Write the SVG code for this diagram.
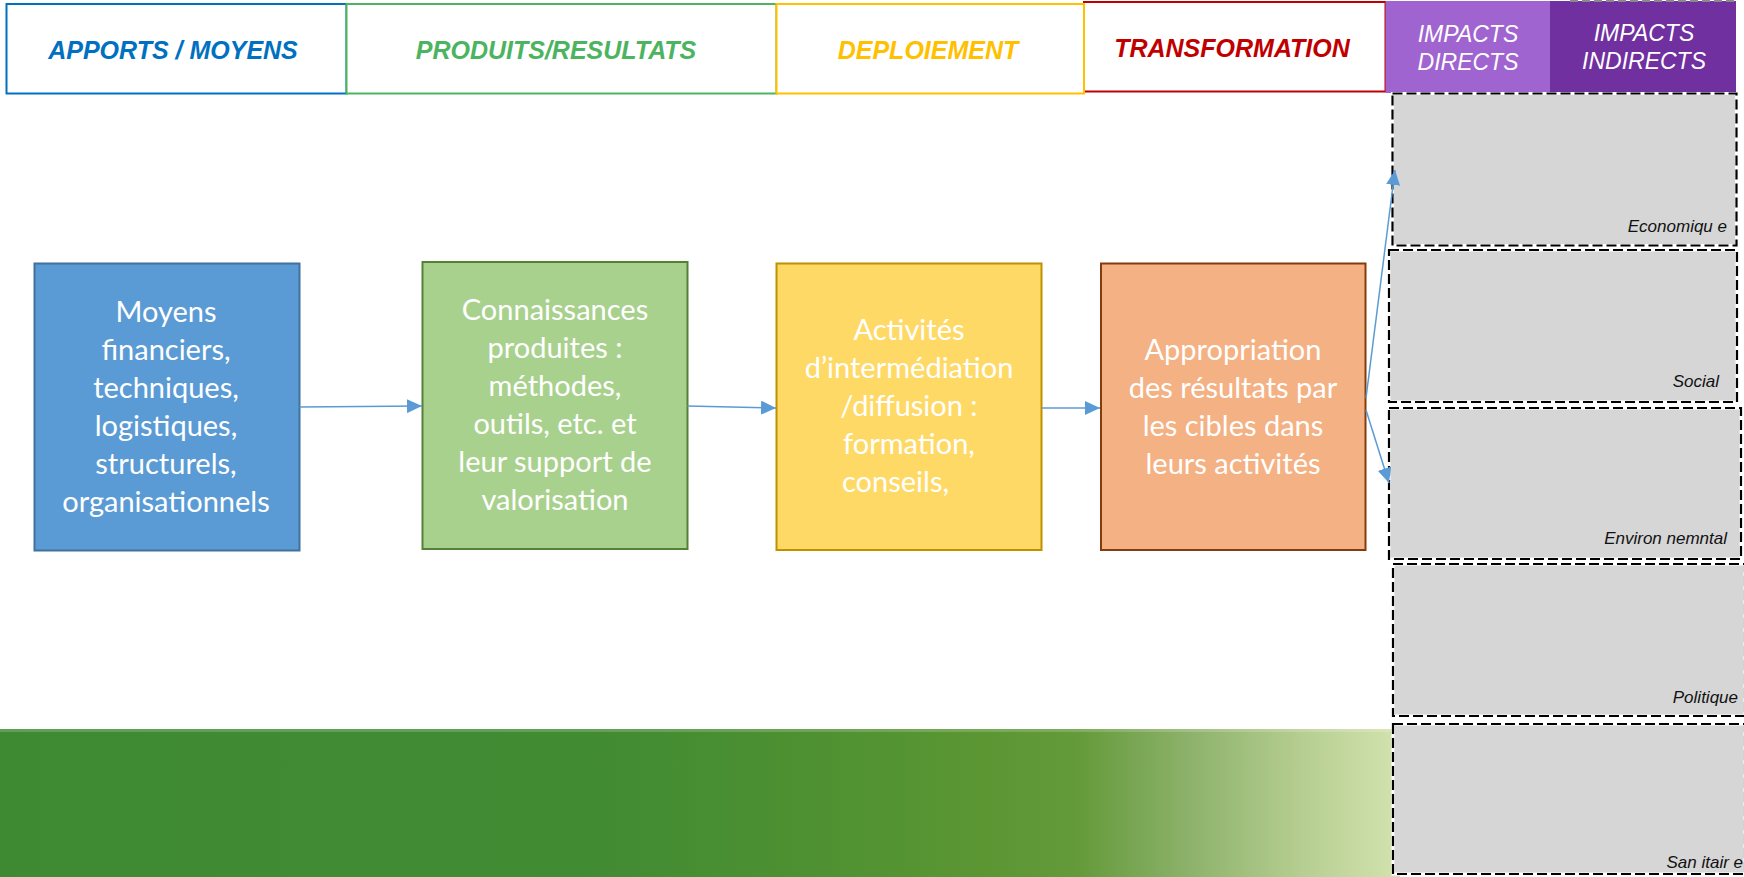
<svg xmlns="http://www.w3.org/2000/svg" width="1744" height="877" viewBox="0 0 1744 877">
<style>
.hd{font-family:"Liberation Sans",Arial,sans-serif;font-size:25px;font-weight:bold;font-style:italic;text-anchor:middle}
.hp{font-family:"Liberation Sans",Arial,sans-serif;font-size:23px;font-style:italic;fill:#FFFFFF;text-anchor:middle}
.bt{font-family:Lato,"Open Sans",sans-serif;font-size:29px;fill:#FFFFFF;text-anchor:middle}
.bts{font-family:Lato,"Open Sans",sans-serif;font-size:29px;fill:#FFFFFF;text-anchor:start}
.gl{font-family:"Liberation Sans",Arial,sans-serif;font-size:17px;font-style:italic;fill:#111111;text-anchor:end}
.gbox{fill:#D6D6D6;stroke:#FFFFFF;stroke-width:3}
.gdash{fill:none;stroke:#000000;stroke-width:2.2;stroke-dasharray:10 4}
.conn{stroke:#5B9BD5;stroke-width:1.5;fill:none;marker-end:url(#ah)}
</style>
<defs>
<marker id="ah" markerUnits="userSpaceOnUse" markerWidth="16" markerHeight="14" refX="15" refY="7" orient="auto">
<path d="M0,0 L15,7 L0,14 z" fill="#5B9BD5"/>
</marker>
<linearGradient id="band" x1="0" y1="0" x2="1" y2="0">
<stop offset="0" stop-color="#3E8A33"/>
<stop offset="0.42" stop-color="#418B33"/>
<stop offset="0.56" stop-color="#4C9032"/>
<stop offset="0.70" stop-color="#5B9633"/>
<stop offset="0.77" stop-color="#649A3A"/>
<stop offset="0.85" stop-color="#8DB26B"/>
<stop offset="0.93" stop-color="#B6CE91"/>
<stop offset="1" stop-color="#D3E3AE"/>
</linearGradient>
</defs>

<rect width="1744" height="877" fill="#FFFFFF"/>

<g id="band-bottom">
<rect x="0" y="729" width="1400" height="148" fill="url(#band)"/>
<rect x="0" y="729" width="1400" height="3" fill="#FFFFFF" opacity="0.18"/>
</g>

<g id="header-apports">
<rect x="6.5" y="4" width="340" height="89.5" fill="#FFFFFF" stroke="#0070C0" stroke-width="2"/>
<text class="hd" x="173" y="59" fill="#0070C0">APPORTS / MOYENS</text>
</g>
<g id="header-produits">
<rect x="346.5" y="4" width="430" height="89.5" fill="#FFFFFF" stroke="#4CB460" stroke-width="2"/>
<text class="hd" x="556" y="59" fill="#4CB460">PRODUITS/RESULTATS</text>
</g>
<g id="header-transformation">
<rect x="1084" y="2" width="301.5" height="89.5" fill="#FFFFFF" stroke="#C00000" stroke-width="2"/>
<text class="hd" x="1232" y="57" fill="#C00000">TRANSFORMATION</text>
</g>
<g id="header-deploiement">
<rect x="776.5" y="4" width="307.5" height="89.5" fill="#FFFFFF" stroke="#FFC000" stroke-width="2"/>
<text class="hd" x="928" y="59" fill="#FFC000">DEPLOIEMENT</text>
</g>
<g id="header-impacts-directs">
<rect x="1385.5" y="1" width="164.5" height="92" fill="#A064D0"/>
<text class="hp" x="1468" y="42">IMPACTS</text>
<text class="hp" x="1468" y="70">DIRECTS</text>
</g>
<g id="header-impacts-indirects">
<rect x="1550" y="1" width="186" height="92" fill="#7030A0"/>
<line x1="1570" y1="1" x2="1736" y2="1" stroke="#8A8A8A" stroke-width="2" stroke-dasharray="8 4"/>
<text class="hp" x="1644" y="41">IMPACTS</text>
<text class="hp" x="1644" y="69">INDIRECTS</text>
</g>

<g id="node-moyens">
<rect x="34.5" y="263.5" width="265" height="287" fill="#5B9BD5" stroke="#41719C" stroke-width="2"/>
<text class="bt" x="166" y="322">Moyens</text>
<text class="bt" x="166" y="360">financiers,</text>
<text class="bt" x="166" y="398">techniques,</text>
<text class="bt" x="166" y="436">logistiques,</text>
<text class="bt" x="166" y="474">structurels,</text>
<text class="bt" x="166" y="512">organisationnels</text>
</g>

<g id="node-connaissances">
<rect x="422.5" y="262" width="265" height="287" fill="#A9D18E" stroke="#538135" stroke-width="2"/>
<text class="bt" x="555" y="320">Connaissances</text>
<text class="bt" x="555" y="358">produites :</text>
<text class="bt" x="555" y="396">méthodes,</text>
<text class="bt" x="555" y="434">outils, etc. et</text>
<text class="bt" x="555" y="472">leur support de</text>
<text class="bt" x="555" y="510">valorisation</text>
</g>

<g id="node-activites">
<rect x="776.5" y="263.5" width="265" height="286.5" fill="#FFD966" stroke="#BF9000" stroke-width="2"/>
<text class="bt" x="909" y="340">Activités</text>
<text class="bt" x="909" y="378">d’intermédiation</text>
<text class="bt" x="909" y="416">/diffusion :</text>
<text class="bt" x="909" y="454">formation,</text>
<text class="bts" x="842" y="492">conseils,</text>
</g>

<g id="node-appropriation">
<rect x="1101" y="263.5" width="264.5" height="286.5" fill="#F4B183" stroke="#843C0C" stroke-width="2"/>
<text class="bt" x="1233" y="360">Appropriation</text>
<text class="bt" x="1233" y="398">des résultats par</text>
<text class="bt" x="1233" y="436">les cibles dans</text>
<text class="bt" x="1233" y="474">leurs activités</text>
</g>

<g id="impact-economique">
<rect class="gbox" x="1392.5" y="93.5" width="344" height="152"/>
<rect class="gdash" x="1392.5" y="93.5" width="344" height="152"/>
<text class="gl" x="1727" y="232">Economiqu e</text>
</g>
<g id="impact-social">
<rect class="gbox" x="1389" y="250" width="348" height="152"/>
<rect class="gdash" x="1389" y="250" width="348" height="152"/>
<text class="gl" x="1719" y="387">Social</text>
</g>
<g id="impact-environnemental">
<rect class="gbox" x="1389" y="408" width="352" height="151"/>
<rect class="gdash" x="1389" y="408" width="352" height="151"/>
<text class="gl" x="1727" y="544">Environ nemntal</text>
</g>
<g id="impact-politique">
<rect class="gbox" x="1393" y="564" width="352" height="152"/>
<rect class="gdash" x="1393" y="564" width="352" height="152"/>
<text class="gl" x="1738" y="703">Politique</text>
</g>
<g id="impact-sanitaire">
<rect class="gbox" x="1393" y="724" width="352" height="150"/>
<rect class="gdash" x="1393" y="724" width="352" height="150"/>
<text class="gl" x="1743" y="868">San itair e</text>
</g>

<g id="connectors">
<line class="conn" x1="299.5" y1="407" x2="422" y2="406"/>
<line class="conn" x1="687.5" y1="406" x2="776" y2="408"/>
<line class="conn" x1="1042" y1="408" x2="1100" y2="408"/>
<line class="conn" x1="1366" y1="398" x2="1395" y2="170"/>
<line class="conn" x1="1366" y1="410" x2="1389" y2="483"/>
</g>
</svg>
